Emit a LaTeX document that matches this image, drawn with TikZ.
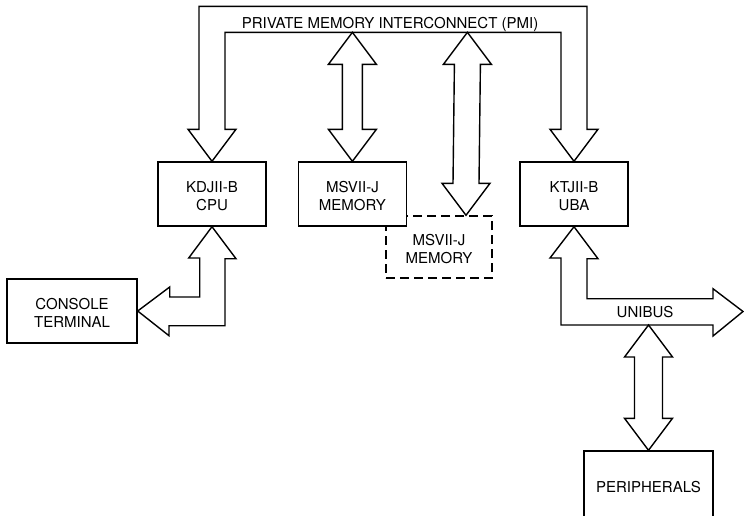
\documentclass[tikz,border=0pt]{standalone}
\usepackage{fontspec}
\setmainfont{TeX Gyre Heros}
\usepackage{tikz}
\usetikzlibrary{calc,positioning}

\tikzset{
  unit/.style={draw, line width=1.4pt, fill=white, minimum width=108pt, minimum height=64pt,
    inner sep=0pt, align=center, text height=32.8pt, text depth=0pt, font=\fontsize{15}{18}\selectfont},
  bus/.style={draw, line width=1.4pt, fill=white, line join=miter},
  buslabel/.style={font=\fontsize{15}{18}\selectfont, inner sep=0pt}
}
% vertical two-headed bus between two tips
\newcommand{\dblbus}[3]{%
  \draw[bus] (#1) -- ($(#1)+(24,32)$) -- ($(#1)+(#3,32)$) -- ($(#2)+(#3,-32)$)
    -- ($(#2)+(24,-32)$) -- (#2) -- ($(#2)+(-24,-32)$) -- ($(#2)+(-#3,-32)$)
    -- ($(#1)+(-#3,32)$) -- ($(#1)+(-24,32)$) -- cycle;}

\begin{document}
\begin{tikzpicture}[x=1pt,y=-1pt]
  \useasboundingbox (0,0) rectangle (744,515);
  % second memory sits behind the first
  \node[unit, dashed, dash pattern=on 9pt off 5pt, minimum width=106pt, minimum height=62pt] (memb) at (439,247) {MSVII-J\\MEMORY};
  \node[unit] (cpu) at (212,194) {KDJII-B\\CPU};
  \node[unit, right=31pt of cpu] (mem) {MSVII-J\\MEMORY};
  \node[unit] (uba) at (574,194) {KTJII-B\\UBA};
  \node[unit, minimum width=130pt] (con) at (72,311) {CONSOLE\\TERMINAL};
  \node[unit, minimum width=129pt, minimum height=72pt, text height=11pt] (per) at (648.5,487) {PERIPHERALS};

  % PMI bus
  \draw[bus] (cpu.north) -- ++(24,-32) -- ++(-11,0) -- ++(0,-97) -- ++(336,0) -- ++(0,97)
    -- ++(-11,0) -- (uba.north) -- ++(24,-32) -- ++(-11,0) -- ++(0,-123) -- ++(-388,0)
    -- ++(0,123) -- ++(-11,0) -- cycle;
  \node[buslabel, anchor=base] (pmi) at (390,28.5) {PRIVATE MEMORY INTERCONNECT (PMI)};
  \coordinate (P1) at ($(mem.north)+(0,-129)$);
  \coordinate (P2) at ($(P1)+(115,0)$);
  \coordinate (M2) at ($(memb.north)+(27,0)$);
  \dblbus{P1}{mem.north}{10}
  \dblbus{P2}{M2}{13}

  % console link
  \draw[bus] (cpu.south) -- ++(24,32) -- ++(-11,0) -- ++(0,67) -- ++(-56,0) -- ++(0,10)
    -- (con.east) -- ++(32,-24) -- ++(0,10) -- ++(30,0) -- ++(0,-39) -- ++(-11,0) -- cycle;

  % UNIBUS
  \coordinate (U) at (743,311.5);
  \draw[bus] (uba.south) -- ++(24,32) -- ++(-11,0) -- ++(0,40) -- ++(126,0) -- ++(0,-10)
    -- (U) -- ++(-30,24.5) -- ++(0,-11) -- ++(-152,0) -- ++(0,-67) -- ++(-11,0) -- cycle;
  \node[buslabel] (unibus) at (645,312) {UNIBUS};
  \coordinate (B) at (per.north |- 0,325);
  \dblbus{B}{per.north}{14}
\end{tikzpicture}
\end{document}
